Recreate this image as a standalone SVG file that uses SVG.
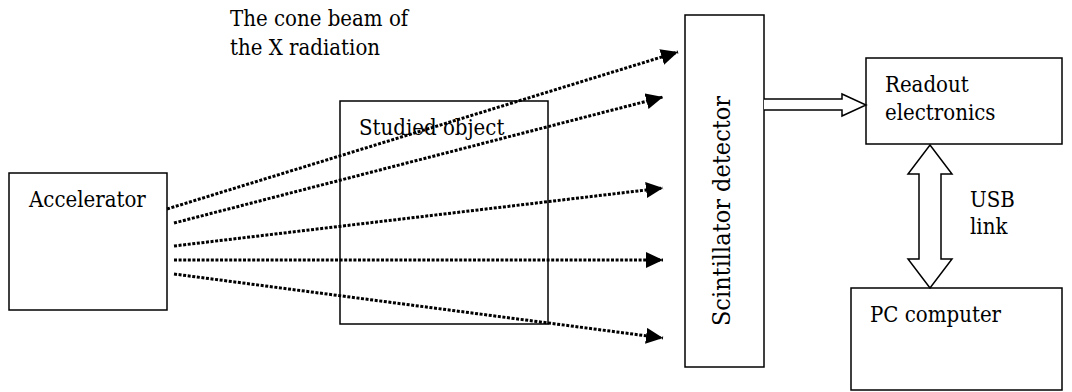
<svg xmlns="http://www.w3.org/2000/svg" width="1072" height="392" viewBox="0 0 1072 392">
  <style>
    .box { fill: #fff; stroke: #000; stroke-width: 1.5; }
    .label { font-family: "DejaVu Serif", "Liberation Serif", serif; font-stretch: condensed; font-size: 22px; fill: #000; }
    .vlabel { font-size: 25px; }
    .beam { fill: none; stroke: #000; stroke-width: 3; stroke-dasharray: 3 1.6; marker-end: url(#tip); }
    .hollow { fill: #fff; stroke: #000; stroke-width: 1.5; stroke-linejoin: miter; }
  </style>
  <defs>
    <marker id="tip" markerUnits="userSpaceOnUse" markerWidth="20" markerHeight="20" refX="17" refY="8" orient="auto">
      <path d="M0,0 L17,8 L0,16 Z" fill="#000"/>
    </marker>
  </defs>
  <rect width="1072" height="392" fill="#fff"/>

  <text class="label" x="230" y="26">The cone beam of</text>
  <text class="label" x="230" y="55">the X radiation</text>

  <g id="accelerator">
    <rect class="box" x="9" y="173" width="158" height="137"/>
    <text class="label" x="29" y="207">Accelerator</text>
  </g>

  <g id="studied-object">
    <rect class="box" x="340" y="101" width="208" height="223" style="fill:none"/>
    <text class="label" x="359" y="135">Studied object</text>
  </g>

  <g id="scintillator-detector">
    <rect class="box" x="685" y="15" width="79" height="352"/>
    <text class="label vlabel" transform="translate(730,211) rotate(-90)" text-anchor="middle">Scintillator detector</text>
  </g>

  <g id="readout-electronics">
    <rect class="box" x="866" y="58" width="196" height="86"/>
    <text class="label" x="885" y="92">Readout</text>
    <text class="label" x="885" y="120">electronics</text>
  </g>

  <g id="pc-computer">
    <rect class="box" x="851" y="288" width="211" height="102"/>
    <text class="label" x="870" y="322">PC computer</text>
  </g>

  <text class="label" x="970" y="207">USB</text>
  <text class="label" x="970" y="234">link</text>

  <g id="connectors">
    <!-- X-ray beam rays -->
    <line class="beam" x1="167" y1="209" x2="678" y2="52"/>
    <line class="beam" x1="174" y1="223" x2="663" y2="97"/>
    <line class="beam" x1="174" y1="246" x2="663" y2="188"/>
    <line class="beam" x1="174" y1="260" x2="663" y2="260"/>
    <line class="beam" x1="174" y1="274" x2="663" y2="338"/>
    <!-- detector to readout -->
    <path class="hollow" d="M764,99 L842,99 L842,94 L866,105 L842,116 L842,110 L764,110"/>
    <!-- USB link, two-way -->
    <path class="hollow" d="M930,145 L952,174 L941,174 L941,259 L952,259 L930,288 L908,259 L919,259 L919,174 L908,174 Z"/>
  </g>
</svg>
